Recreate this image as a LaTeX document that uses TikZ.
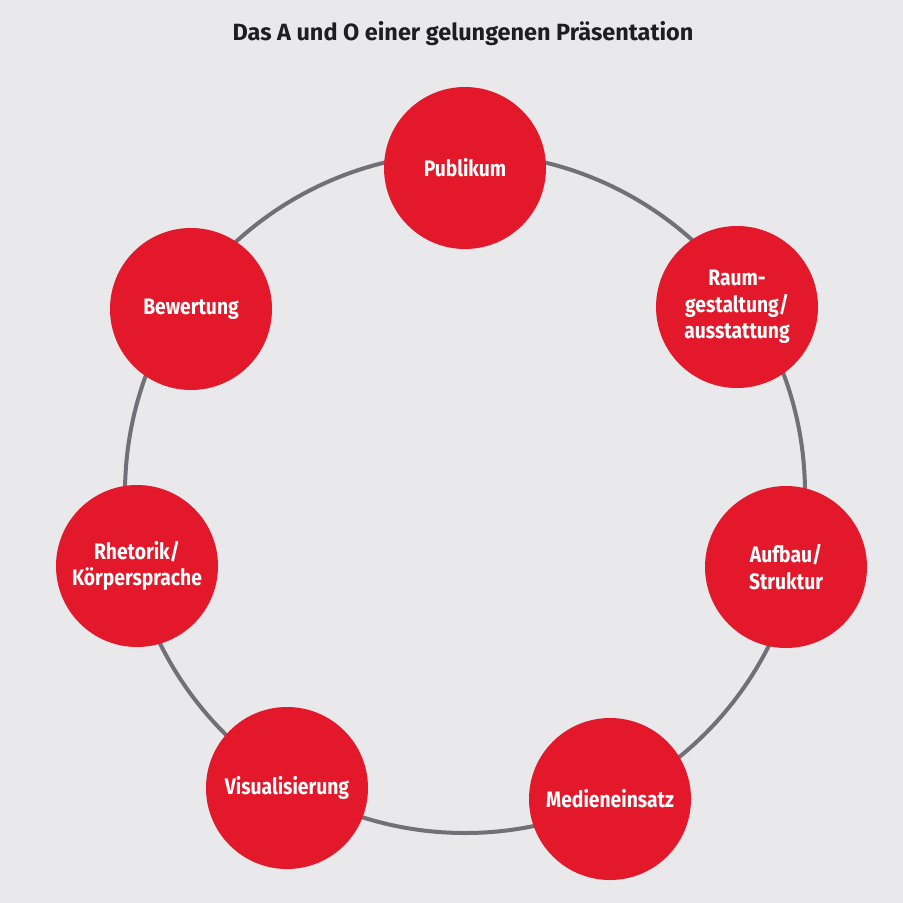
\documentclass[tikz,border=0pt]{standalone}
\usepackage{fontspec}
\setmainfont{Fira Sans}
\newfontfamily\labelfont[FakeStretch=0.86]{Fira Sans}
\definecolor{bgc}{RGB}{233,233,235}
\definecolor{redc}{RGB}{227,24,42}
\definecolor{ringc}{RGB}{112,112,118}
\definecolor{titlec}{RGB}{30,30,32}
\begin{document}
\begin{tikzpicture}[x=0.75pt,y=-0.75pt,
  bubble/.style={circle, fill=redc, minimum size=121.5pt, inner sep=0pt, text=white,
    font=\labelfont\bfseries\fontsize{16.8}{20}\selectfont, align=center},
  ringline/.style={draw=ringc, line width=3pt}]
\fill[bgc] (0,0) rectangle (903,903);
\useasboundingbox (0,0) rectangle (903,903);
\node[font=\bfseries\fontsize{17.6}{20}\selectfont, text=titlec] (title) at (463,34) {Das A und O einer gelungenen Präsentation};
\coordinate (c) at (465,493);
\draw[ringline] (c) circle[radius=255pt];
\node[bubble] (pub) at (465,168) {Publikum};
\node[bubble] (raum) at (737,307) {Raum-\\gestaltung/\\ausstattung};
\node[bubble] (auf) at (786,567) {Aufbau/\\Struktur};
\node[bubble] (med) at (610,799) {Medieneinsatz};
\node[bubble] (vis) at (287,788) {Visualisierung};
\node[bubble] (rhe) at (137,566) {Rhetorik/\\Körpersprache};
\node[bubble] (bew) at (191,309) {Bewertung};
\end{tikzpicture}
\end{document}
